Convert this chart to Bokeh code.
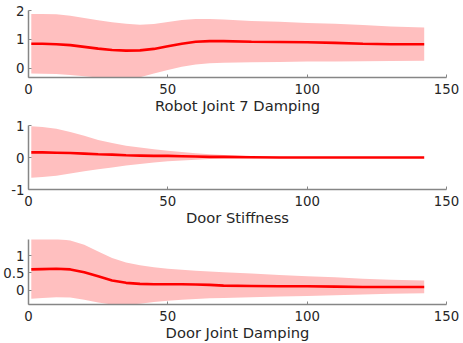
from bokeh.plotting import figure
from bokeh.layouts import column
from bokeh.models import Range1d, FixedTicker
from bokeh.embed import file_html
from bokeh.resources import INLINE

x = [1, 5, 10, 15, 20, 25, 30, 35, 40, 45, 50, 55, 60, 65, 70, 80, 90, 100, 110, 120, 130, 142]

# Robot Joint 7 Damping
m1 = [0.85, 0.85, 0.83, 0.80, 0.74, 0.68, 0.63, 0.61, 0.62, 0.67, 0.76, 0.85, 0.92, 0.94, 0.94, 0.92, 0.91, 0.90, 0.88, 0.85, 0.83, 0.83]
u1 = [1.88, 1.88, 1.87, 1.82, 1.74, 1.66, 1.59, 1.54, 1.51, 1.53, 1.60, 1.67, 1.71, 1.71, 1.69, 1.64, 1.61, 1.57, 1.54, 1.50, 1.45, 1.41]
l1 = [-0.18, -0.19, -0.20, -0.23, -0.28, -0.32, -0.35, -0.36, -0.31, -0.18, -0.06, 0.05, 0.13, 0.17, 0.19, 0.21, 0.22, 0.23, 0.23, 0.24, 0.25, 0.26]

# Door Stiffness
m2 = [0.16, 0.16, 0.15, 0.14, 0.12, 0.10, 0.09, 0.07, 0.06, 0.05, 0.05, 0.04, 0.03, 0.02, 0.02, 0.01, 0.0, 0.0, 0.0, 0.0, 0.0, 0.0]
u2 = [0.98, 0.95, 0.90, 0.80, 0.68, 0.55, 0.45, 0.37, 0.31, 0.26, 0.21, 0.17, 0.13, 0.10, 0.08, 0.04, 0.02, 0.01, 0.005, 0.0, 0.0, 0.0]
l2 = [-0.63, -0.61, -0.57, -0.50, -0.43, -0.37, -0.31, -0.25, -0.20, -0.16, -0.12, -0.09, -0.07, -0.05, -0.04, -0.02, -0.01, -0.005, 0.0, 0.0, 0.0, 0.0]

# Door Joint Damping
m3 = [0.60, 0.61, 0.62, 0.60, 0.52, 0.40, 0.28, 0.21, 0.18, 0.17, 0.17, 0.17, 0.16, 0.15, 0.13, 0.12, 0.11, 0.11, 0.10, 0.09, 0.09, 0.09]
u3 = [1.50, 1.50, 1.49, 1.44, 1.32, 1.12, 0.93, 0.80, 0.72, 0.66, 0.62, 0.59, 0.56, 0.54, 0.52, 0.48, 0.44, 0.40, 0.37, 0.33, 0.30, 0.28]
l3 = [-0.25, -0.23, -0.21, -0.22, -0.28, -0.36, -0.42, -0.43, -0.40, -0.35, -0.31, -0.28, -0.26, -0.24, -0.23, -0.21, -0.19, -0.17, -0.15, -0.13, -0.11, -0.09]

titles = ["Robot Joint 7 Damping", "Door Stiffness", "Door Joint Damping"]
x_ticks = [0, 50, 100, 150]
y_ticks = [[0, 1, 2], [-1, 0, 1], [0, 0.5, 1]]
y_tick_labels = [["0", "1", "2"], ["-1", "0", "1"], ["0", "0.5", "1"]]
y_lims = [(-0.32, 2.0), (-1.0, 1.0), (-0.42, 1.47)]

FONT = "DejaVu Sans"
TXT = "#262626"
AX = "#868686"

series = [(m1, u1, l1), (m2, u2, l2), (m3, u3, l3)]
frame_h = [67, 64, 65]
borders_top = [10, 8, 10]
borders_bottom = [40, 40, 37]

figs = []
for i, (m, u, l) in enumerate(series):
    p = figure(frame_width=418, frame_height=frame_h[i], output_backend="svg", toolbar_location=None,
               x_range=Range1d(0, 150), y_range=Range1d(*y_lims[i]),
               min_border_left=28, min_border_right=14,
               min_border_top=borders_top[i], min_border_bottom=borders_bottom[i])
    p.outline_line_color = None
    p.grid.visible = False
    p.background_fill_color = "white"
    p.border_fill_color = "white"
    p.varea(x=x, y1=l, y2=u, fill_color="#ffbfbf", fill_alpha=1.0)
    p.line(x=x, y=m, line_color="#ff0000", line_width=2.6)

    xa = p.xaxis[0]
    xa.ticker = FixedTicker(ticks=x_ticks)
    xa.axis_label = titles[i]
    ya = p.yaxis[0]
    ya.ticker = FixedTicker(ticks=y_ticks[i])
    ya.major_label_overrides = {t: s for t, s in zip(y_ticks[i], y_tick_labels[i])}
    for ax in (xa, ya):
        ax.axis_line_color = AX
        ax.axis_line_width = 1.5
        ax.major_tick_line_color = AX
        ax.major_tick_line_width = 1
        ax.major_tick_in = 3
        ax.major_tick_out = 0
        ax.minor_tick_line_color = None
        ax.major_label_text_font = FONT
        ax.major_label_text_font_size = "13.3px"
        ax.major_label_text_color = TXT
        ax.axis_label_text_font = FONT
        ax.axis_label_text_font_size = "14.7px"
        ax.axis_label_text_font_style = "normal"
        ax.axis_label_text_color = TXT
    xa.major_label_standoff = 6
    xa.axis_label_standoff = 0
    ya.major_label_standoff = 4
    figs.append(p)

layout = column(*figs, spacing=0)
open("out.html", "w").write(file_html(layout, INLINE))
